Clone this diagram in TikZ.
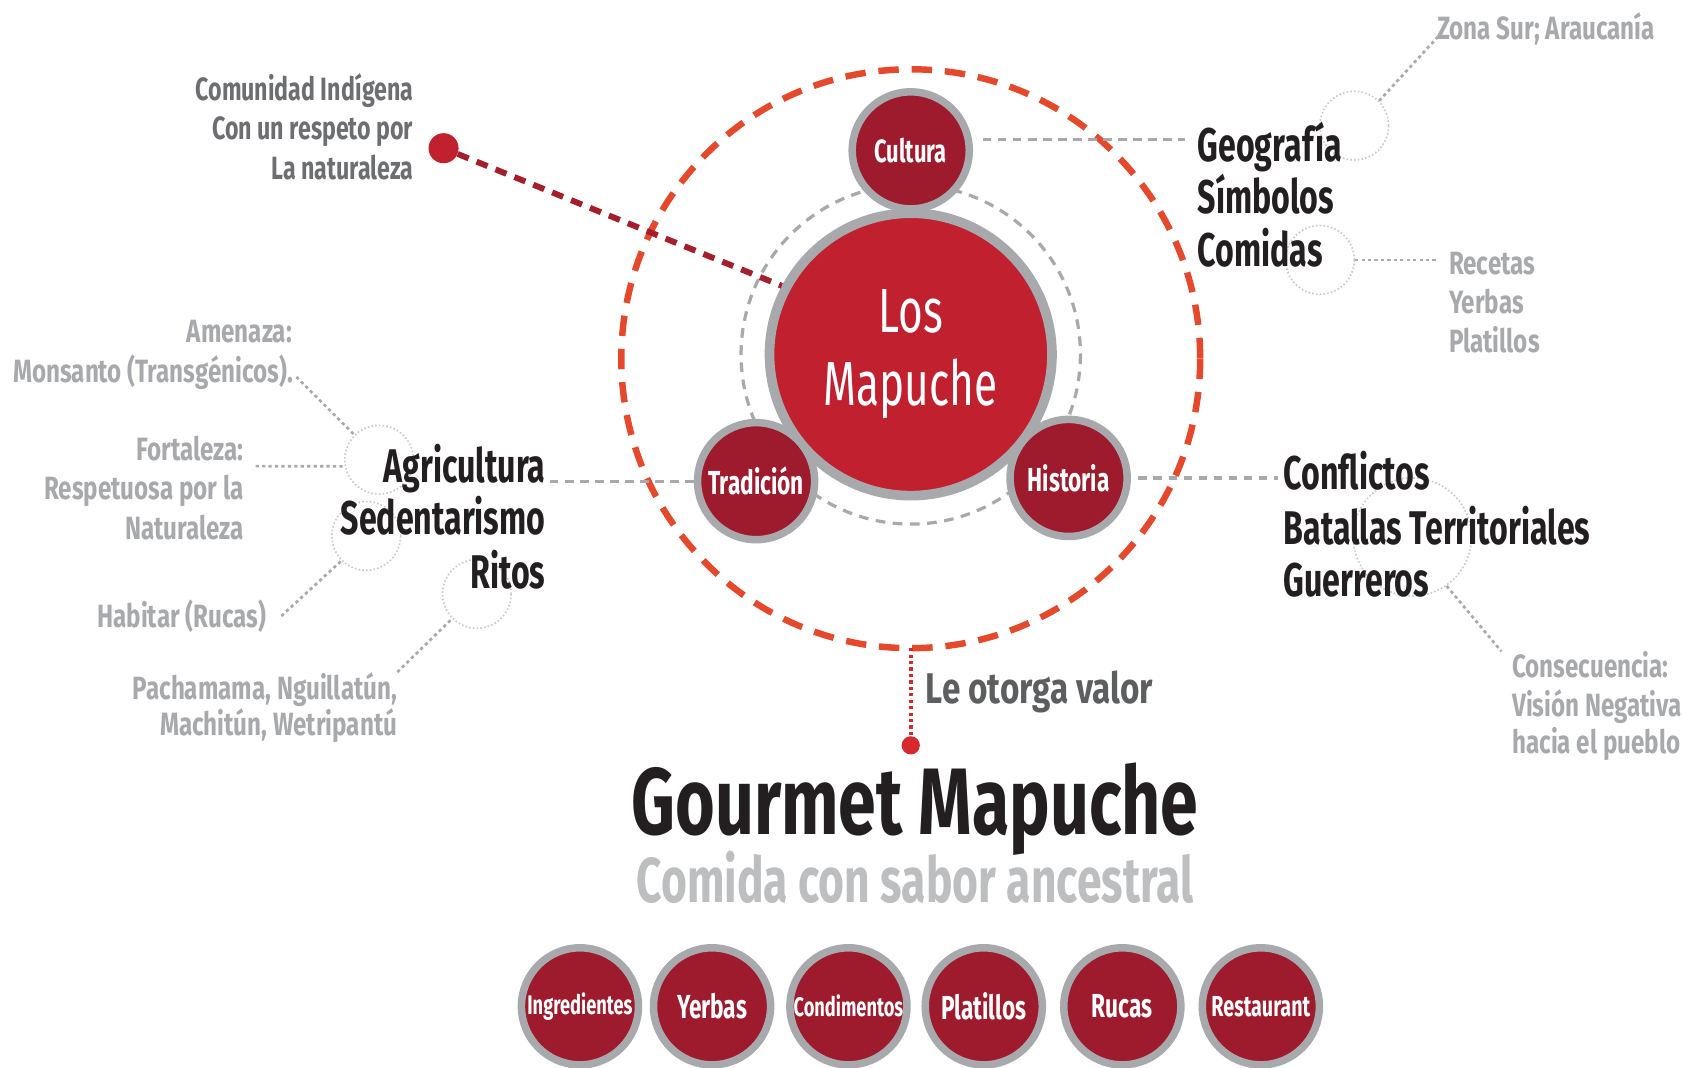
\documentclass[tikz,border=0pt]{standalone}
\usepackage{fontspec}
\setmainfont{Fira Sans}[FakeStretch=0.68]
\newfontfamily\grayfont{Fira Sans}[FakeStretch=0.75]
\newfontfamily\darkfont{Fira Sans}[FakeStretch=0.72]
\newfontfamily\valorfont{Fira Sans}[FakeStretch=0.775]
\newfontfamily\titlefont{Fira Sans}[FakeStretch=0.72]
\newfontfamily\subfont{Fira Sans}[FakeStretch=0.70]
\definecolor{mainred}{HTML}{C1202F}
\definecolor{darkred}{HTML}{9D1B2C}
\definecolor{ringgray}{HTML}{A7A9AC}
\definecolor{orng}{HTML}{E5482A}
\definecolor{linered}{HTML}{A51E2C}
\definecolor{dotred}{HTML}{D7282F}
\definecolor{lgray}{HTML}{A7A9AC}
\definecolor{dgray}{HTML}{6D6E71}
\definecolor{vgray}{HTML}{BCBEC0}
\definecolor{blk}{HTML}{231F20}
\definecolor{faint}{HTML}{C8C9CB}
\tikzset{
  circ/.style={circle, draw=ringgray, line width=7pt, fill=darkred, minimum size=109pt, inner sep=0pt, text=white, font=\bfseries\fontsize{31}{36}\selectfont},
  btxt/.style={font=\bfseries\fontsize{44}{50}\selectfont, text=blk, inner sep=0pt},
  gtxt/.style={font=\grayfont\bfseries\fontsize{30}{36}\selectfont, text=lgray, inner sep=0pt},
  ctxt/.style={font=\darkfont\bfseries\fontsize{30}{36}\selectfont, text=dgray, inner sep=0pt},
  dotcirc/.style={circle, draw=faint, line width=1.5pt, dash pattern=on 1.5pt off 2pt, minimum size=64pt, inner sep=0pt},
  graydash/.style={draw=ringgray, line width=3pt, dash pattern=on 8pt off 6pt},
  dotline/.style={draw=lgray, line width=2.5pt, dash pattern=on 3pt off 3pt},
}
\begin{document}
\begin{tikzpicture}[x=1pt,y=-1pt]
\useasboundingbox (0,0) rectangle (1568,994);
\fill[white] (0,0) rectangle (1568,994);

% big orange dashed circle and gray dashed ring
\draw[orng, line width=6pt, dash pattern=on 19pt off 12pt] (848,334) circle[radius=269.5];
\coordinate (obot) at (848,603.5);
\draw[ringgray, line width=3pt, dash pattern=on 9pt off 7pt] (848,330) circle[radius=158];

% central circles
\node[circle, draw=ringgray, line width=9pt, fill=mainred, minimum size=263pt, inner sep=0pt,
      text=white, align=center, font=\fontsize{58}{68}\selectfont] (main) at (848,330) {Los\\Mapuche};
\node[circ, font=\bfseries\fontsize{30}{36}\selectfont] (cultura) at (848,140) {Cultura};
\node[circ] (tradicion) at (704,448) {Tradición};
\node[circ] (historia) at (995,445) {Historia};

% red dot and dashed line
\node[circle, fill=mainred, minimum size=28pt, inner sep=0pt] (rdot) at (413,138) {};
\draw[linered, line width=5.5pt, dash pattern=on 11pt off 8pt] (rdot) -- (main.152);

% dotted circles
\node[dotcirc] (cgeo) at (1261,117) {};
\node[dotcirc] (ccom) at (1229,242) {};
\node[dotcirc] (cagr) at (353,428) {};
\node[dotcirc] (csed) at (341,499) {};
\node[dotcirc] (crit) at (444,553) {};
\node[dotcirc, minimum size=110pt] (ccon) at (1315,500) {};

% left top text
\node[ctxt, anchor=base east] (com1) at (385,94) {Comunidad Indígena};
\node[ctxt, anchor=base east] (com2) at (385,130) {Con un respeto por};
\node[ctxt, anchor=base east] (com3) at (385,167) {La naturaleza};

% right top
\node[btxt, anchor=base west] (geo) at (1115,150) {Geografía};
\node[btxt, anchor=base west] (sim) at (1115,199) {Símbolos};
\node[btxt, anchor=base west] (comidas) at (1115,248) {Comidas};
\node[gtxt, anchor=base west] (zona) at (1338,37) {Zona Sur; Araucanía};
\node[gtxt, anchor=base west] (rec) at (1349,256) {Recetas};
\node[gtxt, anchor=base west] (yer) at (1349,292) {Yerbas};
\node[gtxt, anchor=base west] (pla) at (1349,328) {Platillos};

% left middle
\node[btxt, anchor=base east] (agri) at (508,449) {Agricultura};
\node[btxt, anchor=base east] (sed) at (508,498) {Sedentarismo};
\node[btxt, anchor=base east] (ritos) at (508,548) {Ritos};
\node[gtxt, anchor=base east] (ame) at (272,319) {Amenaza:};
\node[gtxt, anchor=base east] (mon) at (273,356) {Monsanto (Transgénicos).};
\node[gtxt, anchor=base east] (for1) at (227,429) {Fortaleza:};
\node[gtxt, anchor=base east] (for2) at (227,465) {Respetuosa por la};
\node[gtxt, anchor=base east] (for3) at (227,502) {Naturaleza};
\coordinate (forA) at (238,434);
\node[gtxt, anchor=base east] (hab) at (248,584) {Habitar (Rucas)};
\node[gtxt, anchor=base east] (pach) at (370,651) {Pachamama, Nguillatún,};
\node[gtxt, anchor=base east] (mach) at (370,685) {Machitún, Wetripantú};

% right middle
\node[btxt, anchor=base west] (confl) at (1195,456) {Conflictos};
\node[btxt, anchor=base west] (bat) at (1195,507) {Batallas Territoriales};
\node[btxt, anchor=base west] (guer) at (1195,555) {Guerreros};
\node[gtxt, anchor=base west] (cons1) at (1408,631) {Consecuencia:};
\node[gtxt, anchor=base west] (cons2) at (1408,667) {Visión Negativa};
\node[gtxt, anchor=base west] (cons3) at (1408,702) {hacia el pueblo};

% gray dashed connectors
\draw[graydash] ([xshift=10pt]cultura.10) -- ([xshift=-12pt]cultura.10 -| geo.west);
\draw[graydash] (tradicion.west) -- ([xshift=4pt]tradicion.west -| agri.east);
\draw[graydash] ([xshift=7pt]historia.east) -- ([xshift=-5pt]historia.east -| confl.west);

% dotted connectors
\draw[dotline] (cgeo.45) -- ([xshift=2pt,yshift=4pt]zona.base west);
\draw[dotline] (ccom.east) -- ([xshift=-12pt]ccom.east -| rec.west);
\draw[dotline] ([xshift=3pt,yshift=5pt]mon.base east) -- (cagr.135);
\draw[dotline] (forA) -- (cagr.191);
\draw[dotline] ([xshift=14pt]hab.east) -- (csed.225);
\draw[dotline] (pach.north east) -- (crit.225);
\draw[dotline] (ccon.305) -- ([xshift=-10pt]cons1.north west);

% lower part
\node[circle, fill=dotred, minimum size=17pt, inner sep=0pt] (gdot) at (848,694) {};
\draw[dotred, line width=3.5pt, dash pattern=on 3pt off 3pt] (obot) -- (gdot);
\node[anchor=base west, inner sep=0pt, text=dgray!85!black, font=\valorfont\bfseries\fontsize{40}{46}\selectfont] (valor) at (862,655) {Le otorga valor};

\node[anchor=base, inner sep=0pt, text=blk, font=\titlefont\bfseries\fontsize{88}{96}\selectfont] (gm) at (852,777) {Gourmet Mapuche};
\node[anchor=base, inner sep=0pt, text=vgray, font=\subfont\bfseries\fontsize{59}{64}\selectfont] (sabor) at (852,840) {Comida con sabor ancestral};

\node[circ, font=\bfseries\fontsize{25}{30}\selectfont] (b1) at (540,937) {Ingredientes};
\node[circ, font=\bfseries\fontsize{31}{36}\selectfont] (b2) at (663,937) {Yerbas};
\node[circ, font=\bfseries\fontsize{25}{30}\selectfont] (b3) at (790,937) {Condimentos};
\node[circ, font=\bfseries\fontsize{31}{36}\selectfont] (b4) at (916,937) {Platillos};
\node[circ, font=\bfseries\fontsize{31}{36}\selectfont] (b5) at (1045,937) {Rucas};
\node[circ, font=\bfseries\fontsize{27}{32}\selectfont] (b6) at (1174,937) {Restaurant};
\end{tikzpicture}
\end{document}
